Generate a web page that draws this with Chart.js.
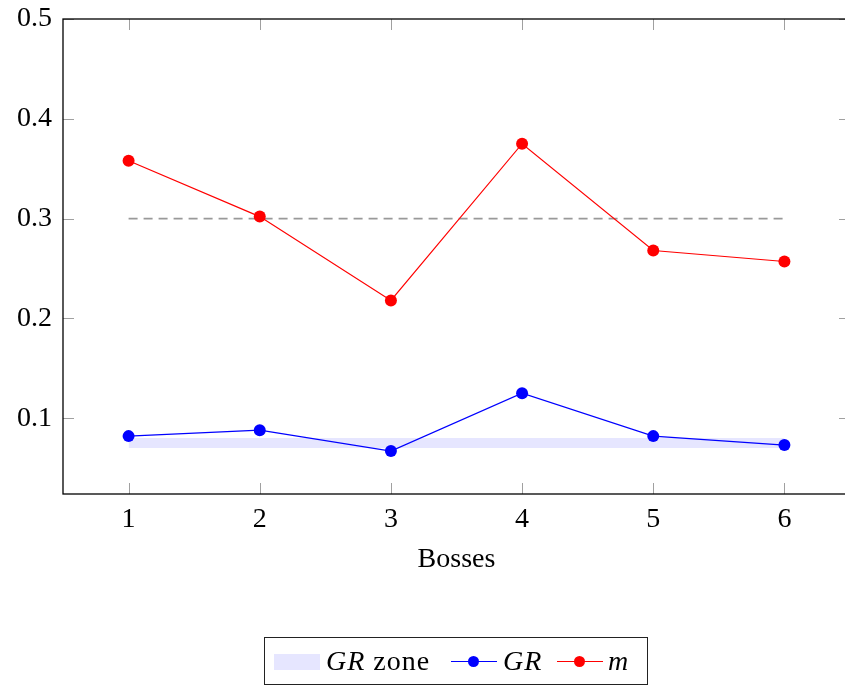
<!DOCTYPE html>
<html>
<head>
<meta charset="utf-8">
<script src="https://cdn.jsdelivr.net/npm/chart.js@4.4.0/dist/chart.umd.min.js"></script>
<style>
html, body { margin: 0; padding: 0; background: #fff; overflow: hidden; }
#wrap { position: relative; width: 845px; height: 687px; overflow: hidden; }
#chart { position: absolute; left: 0; top: 0; }
#legend { position: absolute; left: 264px; top: 637px; width: 384px; height: 48px; box-sizing: border-box;
  border: 1px solid #222; font: 28px 'Liberation Serif', serif; color: #000; }
#legend .t { position: absolute; top: 7px; line-height: 32px; white-space: nowrap; letter-spacing: 1px; }
#legend .sw { position: absolute; left: 9px; top: 16px; width: 46px; height: 16px; background: #e6e6ff; }
#legend .ln { position: absolute; top: 23px; width: 46px; height: 1.2px; }
#legend .dot { position: absolute; top: 18px; width: 11px; height: 11px; border-radius: 50%; }
</style>
</head>
<body>
<div id="wrap">
  <canvas id="chart" width="870" height="687"></canvas>
  <div id="legend">
    <span class="sw"></span>
    <span class="t" style="left:61px"><i>GR</i> zone</span>
    <span class="ln" style="left:186px;background:#00f"></span>
    <span class="dot" style="left:203px;background:#00f"></span>
    <span class="t" style="left:238px"><i>GR</i></span>
    <span class="ln" style="left:292px;background:#f00"></span>
    <span class="dot" style="left:309px;background:#f00"></span>
    <span class="t" style="left:343px"><i>m</i></span>
  </div>
</div>
<script>
// ===== Data =====
const bosses = [1, 2, 3, 4, 5, 6];
const grValues = [0.082, 0.088, 0.067, 0.125, 0.082, 0.073];
const mValues = [0.358, 0.302, 0.218, 0.375, 0.268, 0.257];
const zoneLow = 0.07;
const zoneHigh = 0.08;
const refLevel = 0.3;
const xTicks = [1, 2, 3, 4, 5, 6];
const yTicks = [0.1, 0.2, 0.3, 0.4, 0.5];

const pts = vals => bosses.map((b, i) => ({x: b, y: vals[i]}));
const span = v => [{x: bosses[0], y: v}, {x: bosses[bosses.length - 1], y: v}];

const font = {family: "'Liberation Serif', serif", size: 28};

// inside ticks on all four sides + frame
const frameTicks = {
  id: 'frameTicks',
  afterDatasetsDraw(chart) {
    const {ctx, chartArea: a, scales: {x, y}} = chart;
    ctx.save();
    ctx.strokeStyle = '#a0a0a0';
    ctx.lineWidth = 1;
    ctx.beginPath();
    x.ticks.forEach(t => {
      const px = Math.round(x.getPixelForValue(t.value)) + 0.5;
      ctx.moveTo(px, a.bottom); ctx.lineTo(px, a.bottom - 11);
      ctx.moveTo(px, a.top); ctx.lineTo(px, a.top + 11);
    });
    y.ticks.forEach(t => {
      const py = Math.round(y.getPixelForValue(t.value)) + 0.5;
      ctx.moveTo(a.left, py); ctx.lineTo(a.left + 11, py);
      ctx.moveTo(a.right, py); ctx.lineTo(a.right - 11, py);
    });
    ctx.stroke();
    ctx.strokeStyle = '#000';
    ctx.lineWidth = 1.3;
    ctx.strokeRect(a.left, a.top, a.right - a.left, a.bottom - a.top);
    ctx.restore();
  }
};

const chart = new Chart(document.getElementById('chart'), {
  type: 'line',
  data: {
    datasets: [
      {data: span(zoneHigh), borderWidth: 0, pointRadius: 0, fill: false, order: 10},
      {data: span(zoneLow), borderWidth: 0, pointRadius: 0, fill: '-1', backgroundColor: '#e6e6ff', order: 10},
      {data: span(refLevel), borderColor: '#999999', borderWidth: 1.7, borderDash: [9, 6], pointRadius: 0, fill: false, order: 5},
      {data: pts(grValues), borderColor: '#0000ff', backgroundColor: '#0000ff', borderWidth: 1.2,
       pointRadius: 6, pointBorderWidth: 0, fill: false, order: 1},
      {data: pts(mValues), borderColor: '#ff0000', backgroundColor: '#ff0000', borderWidth: 1.2,
       pointRadius: 6, pointBorderWidth: 0, fill: false, order: 0}
    ]
  },
  options: {
    responsive: false,
    animation: false,
    events: [],
    layout: {padding: {left: 0, top: 19, right: 20, bottom: 111}},
    plugins: {legend: {display: false}, tooltip: {enabled: false}},
    scales: {
      x: {
        type: 'linear', min: 0.5, max: 6.5,
        afterBuildTicks: s => { s.ticks = xTicks.map(v => ({value: v})); },
        afterFit: s => { s.height = 82; s.paddingLeft = 0; s.paddingRight = 0; },
        grid: {display: false}, border: {display: false},
        ticks: {font, color: '#000', padding: 1, callback: v => String(v)},
        title: {display: true, text: 'Bosses', font, color: '#000', padding: {top: 0, bottom: 0}}
      },
      y: {
        type: 'linear', min: 0.024, max: 0.5,
        afterBuildTicks: s => { s.ticks = yTicks.map(v => ({value: v})); },
        afterFit: s => { s.width = 63; s.paddingTop = 0; s.paddingBottom = 0; },
        grid: {display: false}, border: {display: false},
        ticks: {font, color: '#000', padding: 3, callback: v => v.toFixed(1)}
      }
    }
  },
  plugins: [frameTicks]
});
</script>
</body>
</html>
